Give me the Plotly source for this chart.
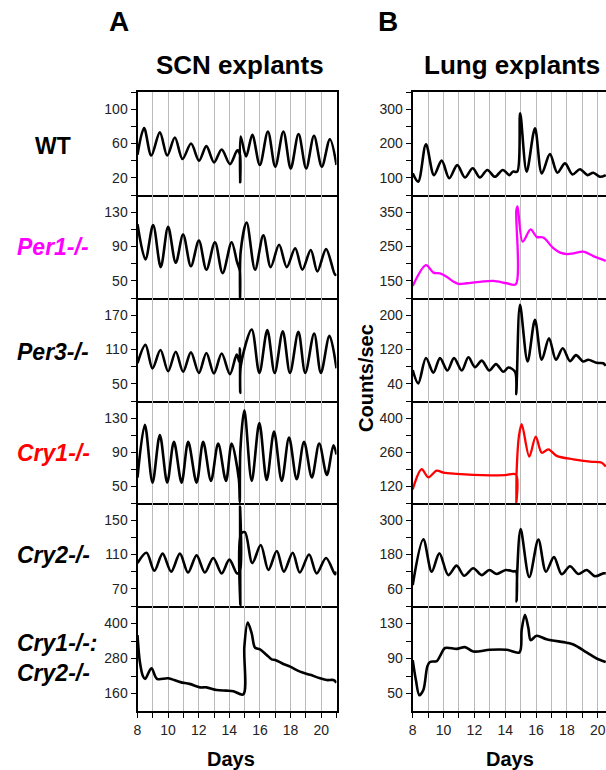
import plotly.graph_objects as go

# ---------------- data (days, counts/sec) ----------------
scn_wt_day = [8.0, 8.43, 8.9, 9.46, 9.94, 10.44, 10.94, 11.5, 12.02, 12.5, 13.0, 13.5, 14.04, 14.52, 14.68, 14.71, 14.74, 15.1, 15.5, 15.99, 16.52, 17.0, 17.53, 18.01, 18.52, 19.02, 19.53, 20.04, 20.57, 21.0]
scn_wt_val = [47, 78, 46, 73, 46, 67, 42, 60, 40, 57, 38, 53, 36, 52, 48, 15, 68, 45, 70, 35, 74, 33, 74, 31, 71, 31, 69, 33, 65, 35]

scn_per1_day = [8.0, 8.52, 9.02, 9.52, 10.0, 10.5, 10.98, 11.49, 12.01, 12.5, 13.06, 13.56, 14.15, 14.5, 14.68, 14.70, 14.74, 15.13, 15.68, 16.22, 16.7, 17.25, 17.75, 18.3, 18.77, 19.32, 19.75, 20.32, 20.91, 21.0]
scn_per1_val = [116, 75, 115, 66, 113, 71, 104, 67, 97, 63, 95, 59, 95, 72, 62, 31, 84, 118, 63, 103, 66, 92, 66, 88, 63, 86, 61, 87, 57, 58]

scn_per3_day = [8.0, 8.52, 8.98, 9.5, 10.0, 10.5, 10.98, 11.49, 12.01, 12.5, 12.99, 13.5, 14.04, 14.48, 14.66, 14.69, 14.71, 14.75, 15.46, 15.96, 16.48, 16.96, 17.49, 17.96, 18.51, 18.96, 19.54, 19.98, 20.54, 21.0]
scn_per3_val = [86, 118, 77, 109, 72, 106, 71, 105, 69, 104, 68, 103, 67, 101, 88, 112, 34, 82, 145, 69, 144, 69, 142, 69, 141, 69, 138, 69, 134, 77]

scn_cry1_day = [8.0, 8.48, 8.98, 9.46, 9.94, 10.38, 10.88, 11.31, 11.86, 12.29, 12.8, 13.27, 13.78, 14.15, 14.62, 14.68, 14.72, 14.98, 15.46, 15.96, 16.44, 16.92, 17.42, 17.9, 18.4, 18.88, 19.39, 19.87, 20.37, 20.8, 21.0]
scn_cry1_val = [60, 122, 54, 110, 54, 102, 54, 102, 54, 102, 56, 100, 56, 100, 58, 31, 92, 139, 56, 124, 57, 114, 56, 107, 58, 102, 60, 100, 63, 98, 87]

scn_cry2_day = [8.0, 8.59, 9.1, 9.64, 10.2, 10.77, 11.3, 11.86, 12.4, 12.95, 13.5, 14.0, 14.5, 14.68, 14.70, 14.72, 14.76, 15.02, 15.5, 16.05, 16.55, 17.1, 17.56, 18.14, 18.6, 19.21, 19.7, 20.32, 20.91, 21.0]
scn_cry2_val = [100, 112, 91, 111, 90, 111, 89, 109, 89, 106, 88, 104, 88, 90, 166, 51, 134, 136, 100, 121, 92, 114, 90, 112, 89, 110, 88, 106, 87, 90]

scn_dko_day = [8.0, 8.15, 8.35, 8.5, 8.91, 9.28, 10.0, 10.8, 11.4, 12.08, 12.5, 13.17, 13.82, 14.26, 14.91, 14.98, 15.2, 15.46, 15.68, 16.0, 16.44, 16.77, 17.0, 17.53, 17.97, 18.62, 19.28, 19.93, 20.37, 20.8, 21.0]
scn_dko_val = [360, 270, 220, 210, 246, 210, 212, 199, 193, 181, 181, 172, 170, 168, 157, 320, 403, 366, 317, 311, 292, 277, 275, 261, 252, 235, 224, 212, 206, 206, 197]

lung_wt_day = [8.0, 8.36, 8.86, 9.38, 9.88, 10.37, 10.89, 11.39, 11.89, 12.36, 12.84, 13.33, 13.84, 14.27, 14.5, 14.78, 14.97, 15.39, 15.93, 16.37, 16.9, 17.38, 17.88, 18.36, 18.85, 19.33, 19.71, 20.15, 20.52]
lung_wt_val = [113, 89, 198, 108, 150, 99, 137, 101, 128, 101, 123, 103, 123, 108, 118, 118, 288, 118, 244, 113, 169, 115, 142, 110, 125, 108, 115, 103, 108]

lung_per1_day = [8.0, 8.86, 9.34, 9.77, 10.2, 10.63, 10.96, 11.5, 12.36, 13.23, 14.1, 14.68, 14.72, 14.8, 15.13, 15.65, 16.04, 16.47, 17.12, 17.56, 17.99, 18.42, 19.06, 19.71, 20.36, 20.52]
lung_per1_val = [135, 196, 174, 172, 162, 148, 141, 143, 147, 150, 143, 140, 355, 367, 264, 300, 278, 276, 245, 232, 228, 230, 235, 222, 211, 208]

lung_per3_day = [8.0, 8.36, 8.86, 9.34, 9.77, 10.25, 10.68, 11.18, 11.61, 12.04, 12.48, 12.97, 13.4, 13.88, 14.2, 14.64, 14.72, 14.76, 14.96, 15.45, 15.93, 16.37, 16.84, 17.29, 17.73, 18.2, 18.59, 19.06, 19.39, 19.93, 20.36, 20.52]
lung_per3_val = [72, 41, 100, 66, 100, 71, 100, 71, 102, 79, 94, 71, 86, 68, 78, 68, 16, 60, 224, 92, 189, 96, 146, 96, 123, 93, 107, 92, 96, 89, 88, 82]

lung_cry1_day = [8.0, 8.58, 9.01, 9.56, 9.99, 10.85, 11.93, 13.01, 14.0, 14.70, 14.72, 14.74, 14.9, 15.07, 15.56, 15.98, 16.37, 16.8, 17.34, 18.42, 19.5, 20.26, 20.52]
lung_cry1_val = [106, 189, 156, 183, 175, 170, 166, 164, 165, 167, 50, 180, 330, 375, 241, 323, 257, 271, 244, 230, 220, 216, 200]

lung_cry2_day = [8.0, 8.69, 9.23, 9.73, 10.31, 10.85, 11.33, 11.93, 12.47, 12.97, 13.45, 14.03, 14.53, 14.7, 14.74, 14.78, 15.0, 15.56, 16.15, 16.64, 17.16, 17.66, 18.2, 18.74, 19.28, 19.82, 20.36, 20.52]
lung_cry2_val = [73, 233, 120, 184, 108, 141, 106, 132, 108, 126, 112, 126, 121, 121, 16, 120, 269, 101, 232, 120, 171, 111, 139, 112, 126, 104, 114, 114]

lung_dko_day = [8.0, 8.21, 8.43, 8.69, 8.95, 9.12, 9.56, 9.78, 10.1, 10.85, 11.39, 11.93, 13.0, 14.09, 14.92, 15.07, 15.28, 15.5, 15.65, 16.04, 16.68, 17.99, 18.42, 19.28, 19.93, 20.52]
lung_dko_val = [88, 65, 48, 54, 81, 86, 87, 93, 102, 101, 103, 98, 100, 100, 97, 123, 140, 125, 111, 116, 112, 108, 106, 97, 90, 86]

row_labels = ["WT", "Per1-/-", "Per3-/-", "Cry1-/-", "Cry2-/-", "Cry1-/-:<br>Cry2-/-"]
row_colors = ["#000000", "#ff00ff", "#000000", "#ff0000", "#000000", "#000000"]

scn_ranges = [[0, 120], [30, 150], [20, 200], [30, 150], [50, 170], [100, 460]]
scn_ticks = [[20, 40, 60, 80, 100, 120], [50, 70, 90, 110, 130, 150], [50, 80, 110, 140, 170, 200],
             [50, 70, 90, 110, 130, 150], [70, 90, 110, 130, 150, 170], [160, 220, 280, 340, 400, 460]]
scn_labels = [["20", "", "60", "", "100", ""], ["50", "", "90", "", "130", ""], ["50", "", "110", "", "170", ""],
              ["50", "", "90", "", "130", ""], ["70", "", "110", "", "150", ""], ["160", "", "280", "", "400", ""]]

lung_ranges = [[50, 350], [100, 400], [0, 240], [50, 470], [0, 360], [30, 150]]
lung_ticks = [[100, 150, 200, 250, 300, 350], [150, 200, 250, 300, 350, 400], [40, 80, 120, 160, 200, 240],
              [120, 190, 260, 330, 400, 470], [60, 120, 180, 240, 300, 360], [50, 70, 90, 110, 130, 150]]
lung_labels = [["100", "", "200", "", "300", ""], ["150", "", "250", "", "350", ""], ["40", "", "120", "", "200", ""],
               ["120", "", "260", "", "400", ""], ["60", "", "180", "", "300", ""], ["50", "", "90", "", "130", ""]]

day_ticks = list(range(8, 22))
day_labels = [str(d) if d % 2 == 0 and d <= 20 else "" for d in day_ticks]

scn_series = [(scn_wt_day, scn_wt_val), (scn_per1_day, scn_per1_val), (scn_per3_day, scn_per3_val),
              (scn_cry1_day, scn_cry1_val), (scn_cry2_day, scn_cry2_val), (scn_dko_day, scn_dko_val)]
lung_series = [(lung_wt_day, lung_wt_val), (lung_per1_day, lung_per1_val), (lung_per3_day, lung_per3_val),
               (lung_cry1_day, lung_cry1_val), (lung_cry2_day, lung_cry2_val), (lung_dko_day, lung_dko_val)]
lung_colors = ["#000000", "#ff00ff", "#000000", "#ff0000", "#000000", "#000000"]

# ---------------- layout geometry ----------------
W, H = 606, 770
ML, MR, MT, MB = 137, 0, 92, 59
PW, PH = W - ML - MR, H - MT - MB
row_px = [92, 195, 298, 401, 503, 606, 711]


def X(px):
    return (px - ML) / PW


def Y(py):
    return (H - MB - py) / PH


FONT = "Arial, Liberation Sans, sans-serif"
col_dom = [[X(137.5), X(336.5)], [X(412.7), 1.0]]
col_range = [[8, 21], [8, 8 + (606 - 412.7) / 15.42]]

fig = go.Figure()
layout = {}
for r in range(6):
    for c in range(2):
        k = r * 2 + c + 1
        sfx = "" if k == 1 else str(k)
        days, vals = (scn_series if c == 0 else lung_series)[r]
        color = "#000000" if c == 0 else lung_colors[r]
        fig.add_trace(go.Scatter(
            x=days, y=vals, mode="lines", xaxis="x" + sfx, yaxis="y" + sfx,
            line=dict(color=color, width=2.6 if color == "#000000" else 2.3, shape="spline", smoothing=0.9),
            showlegend=False, hoverinfo="skip"))
        bottom = r == 5
        layout["xaxis" + sfx] = dict(
            domain=col_dom[c], range=col_range[c], anchor="y" + sfx,
            tickvals=day_ticks, ticktext=day_labels, showticklabels=bottom,
            ticks="outside" if bottom else "", ticklen=5, tickwidth=1, tickcolor="#000",
            showgrid=True, gridcolor="#bbbbbb", gridwidth=1,
            showline=True, linecolor="#000", linewidth=2, mirror=(r == 0), zeroline=False,
            tickfont=dict(family=FONT, size=14, color="#222"))
        yr = (scn_ranges if c == 0 else lung_ranges)[r]
        yt = (scn_ticks if c == 0 else lung_ticks)[r]
        yl = (scn_labels if c == 0 else lung_labels)[r]
        layout["yaxis" + sfx] = dict(
            domain=[Y(row_px[r + 1]), Y(row_px[r])], range=yr, anchor="x" + sfx,
            tickvals=yt, ticktext=yl, ticks="outside", ticklen=5, tickwidth=1, tickcolor="#000",
            showgrid=False, showline=True, linecolor="#000", linewidth=2,
            mirror=(c == 0), zeroline=False,
            tickfont=dict(family=FONT, size=14, color="#222"))

annotations = []


def ann(text, px, py, size, bold=True, italic=False, color="#000", angle=0, align="center"):
    annotations.append(dict(
        text=text, x=X(px), y=Y(py), xref="paper", yref="paper", showarrow=False,
        xanchor="center", yanchor="middle", textangle=angle, align=align,
        font=dict(family=FONT, size=size, color=color,
                  weight="bold" if bold else "normal", style="italic" if italic else "normal")))


ann("A", 119, 22, 28)
ann("B", 388, 22, 28)
ann("SCN explants", 240, 65, 26)
ann("Lung explants", 512, 65, 26)
row_label_y = [146, 247, 352, 453, 555, 658]
for i, lab in enumerate(row_labels):
    if i == 5:
        ann(lab, 57, row_label_y[i], 23, italic=True, color=row_colors[i], align="left")
    else:
        ann(lab, 53, row_label_y[i], 23, italic=(i > 0), color=row_colors[i])
ann("Counts/sec", 366, 378, 20, angle=-90)
ann("Days", 231, 759, 20)
ann("Days", 510, 759, 20)

fig.update_layout(
    width=W, height=H, margin=dict(l=ML, r=MR, t=MT, b=MB),
    paper_bgcolor="white", plot_bgcolor="white",
    annotations=annotations, **layout)

fig.write_html("out.html", config={"displayModeBar": False},
               post_script="document.body.style.margin='0';document.body.style.overflow='hidden';")
